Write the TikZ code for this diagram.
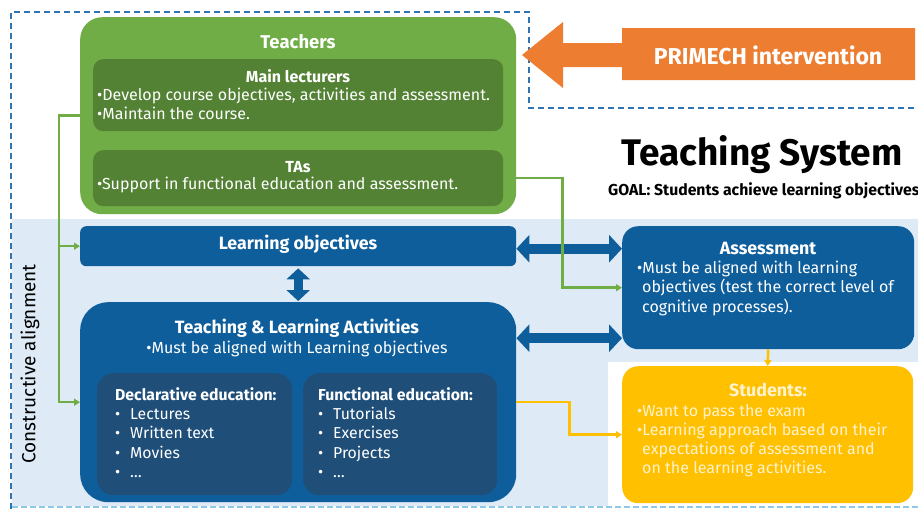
\documentclass[tikz,border=0pt]{standalone}
\usepackage{fontspec}
\setmainfont{Fira Sans}
\usetikzlibrary{arrows.meta}
\definecolor{tgreen}{HTML}{70AD47}
\definecolor{tdgreen}{HTML}{548235}
\definecolor{tblue}{HTML}{0F5E9C}
\definecolor{tnavy}{HTML}{1F4E79}
\definecolor{torange}{HTML}{ED7D31}
\definecolor{tyellow}{HTML}{FFC000}
\definecolor{tlight}{HTML}{DEEAF6}
\definecolor{tdash}{HTML}{2E75B6}
\definecolor{tcyan}{HTML}{8FC9EA}
\definecolor{tpale}{HTML}{FFF2CC}
\begin{document}
\begin{tikzpicture}[x=1pt,y=-1pt,
  panel/.style={anchor=north west, inner sep=0pt, draw=none},
  wtext/.style={text=white, inner sep=0pt},
  body/.style={font=\fontsize{16}{19.2}\selectfont},
  hdr/.style={font=\bfseries\fontsize{16}{19}\selectfont},
  bighdr/.style={font=\bfseries\fontsize{17.8}{20}\selectfont},
  dbl/.style={draw=tblue, line width=10pt, {Triangle[width=27pt,length=13pt]}-{Triangle[width=27pt,length=13pt]}},
  vdbl/.style={draw=tblue, line width=9pt, {Triangle[width=23pt,length=11pt]}-{Triangle[width=23pt,length=11pt]}},
  gline/.style={draw=tgreen, line width=2.5pt, -{Triangle[width=7pt,length=6pt]}},
  yline/.style={draw=tyellow, line width=2.5pt, -{Triangle[width=7pt,length=6pt]}}
]
\useasboundingbox (0,0) rectangle (918,509);
\fill[white] (0,0) rectangle (918,509);
% light background
\fill[tlight] (12,219) rectangle (918,506);
\fill[white] (608,362) rectangle (918,506);
% dashed frames
\draw[tdash, line width=1.3pt, dash pattern=on 6pt off 4pt] (11,509) -- (11,12) -- (529,12) -- (529,108) -- (918,108);
\draw[tcyan, line width=1.5pt, dash pattern=on 6pt off 3pt] (12,507) -- (918,507);

% PRIMECH arrow
\fill[torange] (522,55) -- (563,22) -- (563,43) -- (622,43) -- (622,28) -- (915,28) -- (915,80) -- (622,80) -- (622,67) -- (563,67) -- (563,88) -- cycle;
\node[wtext, font=\bfseries\fontsize{23}{26}\selectfont] (primech) at (768,55) {PRIMECH intervention};

% Title
\node[inner sep=0pt, font=\bfseries\fontsize{37}{44}\selectfont] (title) at (762,155) {Teaching System};
\node[inner sep=0pt, anchor=west, font=\bfseries\fontsize{15.8}{18}\selectfont] (goal) at (608,191) {GOAL: Students achieve learning objectives};

% Teachers
\node[panel, fill=tgreen, rounded corners=22pt, minimum width=436pt, minimum height=197pt] (teachers) at (80,17) {};
\node[wtext, font=\bfseries\fontsize{18.5}{20}\selectfont] (teachers-t) at (298,42) {Teachers};
\node[panel, fill=tdgreen, rounded corners=10pt, minimum width=410pt, minimum height=72pt] (main) at (93,59) {};
\node[wtext, hdr] (main-t) at (298,76) {Main lecturers};
\node[wtext, body, anchor=north west, align=left] (main-b) at (97,88) {•Develop course objectives, activities and assessment.\\•Maintain the course.};
\node[panel, fill=tdgreen, rounded corners=10pt, minimum width=410pt, minimum height=56pt] (tas) at (93,150) {};
\node[wtext, hdr] (tas-t) at (298,167) {TAs};
\node[wtext, body, anchor=north west, align=left] (tas-b) at (97,177) {•Support in functional education and assessment.};

% Learning objectives
\node[panel, fill=tblue, rounded corners=6pt, minimum width=436pt, minimum height=40pt] (lo) at (80,226) {};
\node[wtext, bighdr] (lo-t) at (298,244) {Learning objectives};

% TLA
\node[panel, fill=tblue, rounded corners=28pt, minimum width=436pt, minimum height=200pt] (tla) at (80,302) {};
\node[wtext, bighdr] (tla-t) at (297,328) {Teaching \& Learning Activities};
\node[wtext, body] (tla-b) at (297,349) {•Must be aligned with Learning objectives};
\node[panel, fill=tnavy, rounded corners=16pt, minimum width=195pt, minimum height=122pt] (decl) at (97,373) {};
\node[panel, fill=tnavy, rounded corners=16pt, minimum width=194pt, minimum height=122pt] (func) at (303,373) {};
\node[wtext, anchor=north west, align=left, font=\fontsize{15.8}{19.4}\selectfont] (decl-t) at (115,387)
  {\textbf{Declarative education:}\\
   \makebox[15pt][l]{•}Lectures\\
   \makebox[15pt][l]{•}Written text\\
   \makebox[15pt][l]{•}Movies\\
   \makebox[15pt][l]{•}…};
\node[wtext, anchor=north west, align=left, font=\fontsize{15.8}{19.4}\selectfont] (func-t) at (318,387)
  {\textbf{Functional education:}\\
   \makebox[15pt][l]{•}Tutorials\\
   \makebox[15pt][l]{•}Exercises\\
   \makebox[15pt][l]{•}Projects\\
   \makebox[15pt][l]{•}…};

% Assessment
\node[panel, fill=tblue, rounded corners=16pt, minimum width=292pt, minimum height=123pt] (assess) at (622,226) {};
\node[wtext, bighdr] (assess-t) at (768,248) {Assessment};
\node[wtext, body, anchor=north west, align=left] (assess-b) at (637,261)
  {•Must be aligned with learning\\\hspace*{5pt}objectives (test the correct level of\\\hspace*{5pt}cognitive processes).};

% Students
\node[panel, fill=tyellow, rounded corners=16pt, minimum width=291pt, minimum height=137pt] (students) at (622,366) {};
\node[inner sep=0pt, text=tpale, bighdr] (students-t) at (768,390) {Students:};
\node[inner sep=0pt, text=tpale, body, anchor=north west, align=left] (students-b) at (637,404)
  {•Want to pass the exam\\•Learning approach based on their\\\hspace*{5pt}expectations of assessment and\\\hspace*{5pt}on the learning activities.};

% Constructive alignment
\node[inner sep=0pt, rotate=90, font=\fontsize{19}{22}\selectfont] (ca) at (30,364) {Constructive alignment};

% connectors
\draw[dbl] ([yshift=-2.5pt]lo.east) -- ([yshift=-2.5pt]lo.east -| assess.west);
\draw[dbl] ([yshift=64pt]tla.east) -- ([yshift=64pt]tla.east -| assess.west);
\draw[vdbl] ([yshift=-2pt]lo.south) -- ([yshift=1pt]tla.north);
\coordinate (gl) at (59,0);
\draw[gline] (teachers.west) -- (gl |- teachers.west) |- (tla.west);
\draw[gline] (gl |- lo.west) -- (lo.west);
\draw[gline] (teachers.east |- tas.east) -- ++(46,0) |- (assess.west);
\draw[yline] (tla.east) -- ++(53,0) |- (students.west);
\draw[yline] (assess.south) -- (students.north);
\end{tikzpicture}
\end{document}
